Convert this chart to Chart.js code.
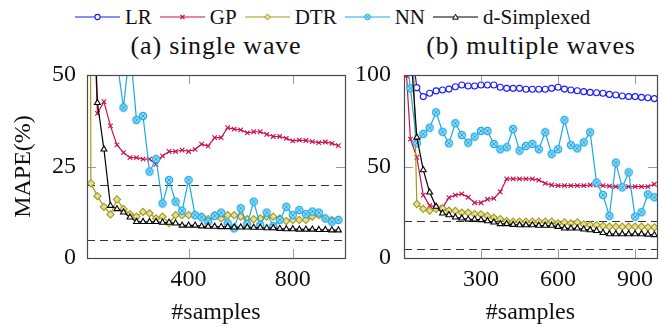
<!DOCTYPE html>
<html>
<head>
<meta charset="utf-8">
<script src="https://cdn.jsdelivr.net/npm/chart.js@4.4.1/dist/chart.umd.min.js"></script>
<style>
  body { margin:0; background:#fff; width:662px; height:327px; overflow:hidden; position:relative; font-family:'Liberation Serif', serif; color:#111; }
  canvas { position:absolute; top:0; }
  #legend { position:absolute; top:5px; left:75px; display:flex; align-items:center; font-size:21px; height:24px; white-space:nowrap; }
  .item { display:flex; align-items:center; margin-right:8px; }
  .item span { margin-left:5px; }
  .title { position:absolute; top:31px; font-size:26px; letter-spacing:0.8px; transform:translateX(-50%); white-space:nowrap; line-height:30px; }
</style>
</head>
<body>
<div id="legend"></div>
<div class="title" style="left:216px">(a) single wave</div>
<div class="title" style="left:531px">(b) multiple waves</div>
<canvas id="chart_single" width="350" height="327" style="left:0"></canvas>
<canvas id="chart_multi" width="312" height="327" style="left:350px"></canvas>
<script>
// number of samples (x) shared by both panels
var samples = [10, 25, 50, 75, 100, 125, 150, 175, 200, 225, 250, 275, 300, 325, 350, 375, 400, 425, 450, 475,
               500, 525, 550, 575, 600, 625, 650, 675, 700, 725, 750, 775, 800, 825, 850, 875, 900, 925, 950, 975];

// (a) single wave - MAPE(%)
var singleGP = [120, 90, 39.5, 42.7, 36.1, 30.9, 28.8, 27.4, 27.4, 27.0, 27.0, 25.6, 27.9, 29.1, 29.1, 29.5, 29.1, 29.7, 31.1, 30.6,
                32.9, 32.9, 35.6, 35.2, 35.0, 34.2, 34.5, 34.5, 33.8, 33.2, 33.2, 32.7, 32.0, 32.2, 32.1, 31.8, 31.5, 31.7, 31.3, 30.7];
var singleDTR = [400, 20.4, 16.9, 14.0, 11.9, 16.0, 13.4, 12.0, 11.3, 12.6, 12.2, 10.8, 11.3, 9.5, 11.7, 11.7, 11.7, 11.7, 11.3, 10.6,
                 11.7, 10.8, 11.7, 11.7, 11.3, 10.6, 10.6, 10.8, 11.3, 11.3, 10.8, 10.1, 10.4, 10.4, 10.4, 11.3, 11.7, 10.8, 10.4, 10.4];
var singleNN = [95, 85, 75, 66, 60, 54, 41.1, 57.7, 37.7, 38.8, 23.6, 27.0, 14.9, 21.3, 15.4, 12.9, 21.3, 11.7, 11.1, 9.9,
                11.5, 12.4, 9.5, 8.1, 13.6, 9.3, 15.4, 9.0, 12.4, 8.7, 10.4, 14.0, 11.7, 13.1, 12.0, 12.7, 12.4, 10.8, 9.9, 10.4];
var singleSimplexed = [150, 92, 42.4, 29.7, 14.3, 13.4, 12.5, 11.1, 9.9, 9.9, 9.9, 9.9, 9.7, 9.7, 9.5, 8.9, 8.9, 8.9, 8.7, 8.6,
                       8.6, 8.5, 8.5, 8.4, 8.4, 8.4, 8.3, 8.3, 8.2, 8.2, 8.0, 7.9, 7.9, 7.8, 7.8, 7.8, 7.7, 7.7, 7.6, 7.6];

// (b) multiple waves - MAPE(%)
var multiLR = [150, 120, 93.1, 88.2, 90.0, 91.3, 91.8, 92.3, 93.6, 94.5, 94.0, 94.0, 94.5, 94.5, 94.5, 93.3, 92.7, 92.7, 92.7, 92.2,
               92.2, 92.2, 92.2, 92.7, 93.3, 92.3, 91.8, 91.4, 90.9, 90.5, 90.3, 90.0, 89.4, 89.1, 88.5, 88.2, 88.2, 87.8, 87.6, 87.1];
var multiGP = [99.6, 65.0, 55.0, 34.4, 28.6, 28.1, 27.5, 33.0, 34.4, 35.0, 33.2, 30.2, 30.2, 32.1, 32.6, 36.2, 43.2, 43.2, 43.2, 43.2,
               43.2, 42.6, 40.8, 39.9, 39.5, 39.5, 39.5, 39.5, 39.5, 39.9, 39.9, 39.5, 39.3, 39.0, 39.0, 39.0, 39.0, 39.0, 39.0, 40.3];
var multiDTR = [250, 180, 29.5, 26.8, 25.9, 26.8, 27.1, 25.9, 25.7, 24.8, 24.8, 24.0, 23.9, 23.0, 22.0, 21.3, 20.2, 19.9, 19.9, 19.9,
                19.9, 19.9, 19.9, 19.9, 18.9, 19.5, 18.9, 19.5, 18.4, 18.0, 18.0, 17.5, 17.1, 17.1, 17.1, 17.1, 17.1, 17.1, 16.8, 16.8];
var multiNN = [110, 92.7, 62.7, 67.8, 71.2, 79.6, 69.0, 62.7, 73.6, 67.2, 63.0, 66.3, 69.4, 69.4, 62.3, 59.4, 60.5, 70.5, 58.7, 61.2,
               62.3, 59.4, 68.7, 56.8, 59.4, 75.4, 61.7, 59.9, 63.2, 68.7, 41.2, 34.4, 23.0, 52.1, 38.6, 46.8, 22.6, 25.0, 34.8, 33.2];
var multiSimplexed = [140, 115, 65.9, 48.1, 35.9, 28.1, 24.4, 23.5, 22.2, 21.7, 21.1, 21.1, 20.8, 20.2, 19.5, 18.6, 18.6, 18.2, 18.0, 18.0,
                      18.0, 17.7, 17.7, 17.7, 17.1, 16.2, 16.2, 16.2, 15.7, 15.3, 14.9, 13.8, 13.1, 13.1, 13.1, 13.1, 13.1, 13.1, 12.9, 12.6];

// dashed reference levels and tick labels
var thresholds = [5, 20];
var singleXTicks = [400, 800];
var singleYTicks = [0, 25, 50];
var multiXTicks = [300, 600, 900];
var multiYTicks = [0, 50, 100];

var seriesNames = ['LR', 'GP', 'DTR', 'NN', 'd-Simplexed'];
var cores = ['#1a1aff', '#c8104f', '#a39a1a', '#1aa9e6', '#000000'];
var fills = ['#ffffff', '#c8104f', '#e4df9c', '#a6ddf5', '#ffffff'];

// "otimes" mark for NN
function otimes(r, size) {
    var c = document.createElement('canvas');
    c.width = size; c.height = size;
    var g = c.getContext('2d');
    var m = size / 2;
    g.beginPath();
    g.arc(m, m, r, 0, Math.PI * 2);
    g.fillStyle = fills[3];
    g.fill();
    g.lineWidth = 1.2;
    g.strokeStyle = cores[3];
    g.stroke();
    var d = r * 0.62;
    g.beginPath();
    g.moveTo(m - d, m - d); g.lineTo(m + d, m + d);
    g.moveTo(m + d, m - d); g.lineTo(m - d, m + d);
    g.lineWidth = 1;
    g.stroke();
    return c;
}
var nnMark = otimes(3.6, 10);
var styles = ['circle', 'crossRot', 'rectRot', nnMark, 'triangle'];
var radii = [3, 3.2, 3.6, 3.6, 3.4];

function makeSet(idx, values) {
    return {
        label: seriesNames[idx],
        data: samples.map(function(x, i) { return {x: x, y: values[i]}; }),
        borderColor: cores[idx],
        backgroundColor: cores[idx],
        borderWidth: 1.2,
        pointStyle: styles[idx],
        pointRadius: radii[idx],
        pointBorderColor: cores[idx],
        pointBackgroundColor: fills[idx],
        pointBorderWidth: 1.1,
        tension: 0,
        fill: false,
        order: 4 - idx
    };
}

var pgfAxis = {
    id: 'pgfAxis',
    beforeDatasetsDraw: function(chart) {
        var ctx = chart.ctx, a = chart.chartArea, y = chart.scales.y;
        ctx.save();
        ctx.setLineDash([8, 5]);
        ctx.strokeStyle = '#333';
        ctx.lineWidth = 1.2;
        thresholds.forEach(function(t) {
            var py = Math.round(y.getPixelForValue(t)) + 0.5;
            ctx.beginPath();
            ctx.moveTo(a.left, py);
            ctx.lineTo(a.right, py);
            ctx.stroke();
        });
        ctx.restore();
    },
    afterDraw: function(chart) {
        var ctx = chart.ctx, a = chart.chartArea;
        var x = chart.scales.x, y = chart.scales.y;
        ctx.save();
        ctx.strokeStyle = '#9a9a9a';
        ctx.lineWidth = 1;
        var len = 9;
        x.ticks.forEach(function(t) {
            var px = Math.round(x.getPixelForValue(t.value)) + 0.5;
            ctx.beginPath();
            ctx.moveTo(px, a.bottom); ctx.lineTo(px, a.bottom - len);
            ctx.moveTo(px, a.top); ctx.lineTo(px, a.top + len);
            ctx.stroke();
        });
        y.ticks.forEach(function(t) {
            var py = Math.round(y.getPixelForValue(t.value)) + 0.5;
            ctx.beginPath();
            ctx.moveTo(a.left, py); ctx.lineTo(a.left + len, py);
            ctx.moveTo(a.right, py); ctx.lineTo(a.right - len, py);
            ctx.stroke();
        });
        ctx.strokeStyle = '#4a4a4a';
        ctx.lineWidth = 1.2;
        ctx.strokeRect(Math.round(a.left) + 0.5, Math.round(a.top) + 0.5,
                       Math.round(a.right - a.left), Math.round(a.bottom - a.top));
        ctx.restore();
    }
};

var tickFont = {family: 'Liberation Serif', size: 24};

function makeChart(id, sets, xr, xTicks, yr, yTicks, yWidth, yPad, title) {
    return new Chart(document.getElementById(id), {
        type: 'line',
        data: {datasets: sets},
        options: {
            responsive: false,
            animation: false,
            layout: {padding: {top: 75, right: id === 'chart_single' ? 5 : 4, bottom: 0, left: 0}},
            plugins: {legend: {display: false}, tooltip: {enabled: false}},
            scales: {
                x: {
                    type: 'linear',
                    min: xr[0], max: xr[1],
                    grid: {display: false, drawTicks: false},
                    border: {display: false},
                    afterBuildTicks: function(s) { s.ticks = xTicks.map(function(v) { return {value: v}; }); },
                    afterFit: function(s) { s.height = 69; },
                    ticks: {font: tickFont, color: '#111', padding: 7, maxRotation: 0,
                            callback: function(v) { return String(v); }},
                    title: {display: true, text: '#samples', font: tickFont, color: '#111', padding: {top: 2, bottom: 0}}
                },
                y: {
                    min: yr[0], max: yr[1],
                    grid: {display: false, drawTicks: false},
                    border: {display: false},
                    afterBuildTicks: function(s) { s.ticks = yTicks.map(function(v) { return {value: v}; }); },
                    afterFit: function(s) { s.width = yWidth; },
                    ticks: {font: tickFont, color: '#111', padding: yPad,
                            callback: function(v) { return String(v); }},
                    title: {display: !!title, text: title || '', font: tickFont, color: '#111', padding: {top: 9, bottom: 0}}
                }
            }
        },
        plugins: [pgfAxis]
    });
}

makeChart('chart_single',
    [makeSet(1, singleGP), makeSet(2, singleDTR), makeSet(3, singleNN), makeSet(4, singleSimplexed)],
    [10, 1000], singleXTicks, [0, 50], singleYTicks, 87, 11, 'MAPE(%)');

makeChart('chart_multi',
    [makeSet(0, multiLR), makeSet(1, multiGP), makeSet(2, multiDTR), makeSet(3, multiNN), makeSet(4, multiSimplexed)],
    [0, 985], multiXTicks, [0, 100], multiYTicks, 54, 13, null);

// shared legend
function markSvg(idx) {
    var c = cores[idx], f = fills[idx], m;
    if (idx === 0) m = '<circle cx="22.5" cy="6" r="2.6" fill="' + f + '" stroke="' + c + '" stroke-width="1.1"/>';
    else if (idx === 1) m = '<path d="M20.5 4L24.5 8M24.5 4L20.5 8" stroke="' + c + '" stroke-width="1.2"/>';
    else if (idx === 2) m = '<path d="M22.5 3L25.3 6L22.5 9L19.7 6Z" fill="' + f + '" stroke="' + c + '" stroke-width="1"/>';
    else if (idx === 3) m = '<circle cx="22.5" cy="6" r="2.8" fill="' + f + '" stroke="' + c + '" stroke-width="1"/>' +
                            '<path d="M20.8 4.3L24.2 7.7M24.2 4.3L20.8 7.7" stroke="' + c + '" stroke-width="0.8"/>';
    else m = '<path d="M22.5 3.2L25.3 8.2L19.7 8.2Z" fill="' + f + '" stroke="' + c + '" stroke-width="1"/>';
    return '<svg width="45" height="12"><line x1="0" y1="6" x2="45" y2="6" stroke="' + c + '" stroke-width="1.2"/>' + m + '</svg>';
}
var legend = document.getElementById('legend');
seriesNames.forEach(function(name, i) {
    var item = document.createElement('div');
    item.className = 'item';
    item.innerHTML = markSvg(i) + '<span>' + name + '</span>';
    legend.appendChild(item);
});
</script>
</body>
</html>
